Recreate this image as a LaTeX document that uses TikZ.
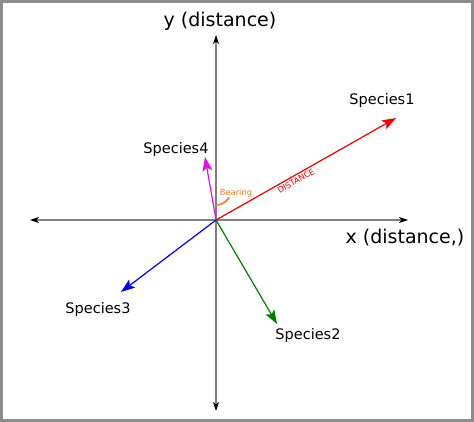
\documentclass[tikz,border=0pt]{standalone}
\usepackage{fontspec}
\setmainfont{DejaVu Sans}
\usetikzlibrary{arrows.meta}
\definecolor{axisgray}{HTML}{808080}
\definecolor{frame}{HTML}{8C8C8C}
\definecolor{bearingorange}{HTML}{F07820}
\definecolor{sp2green}{HTML}{007F00}
\definecolor{sp4magenta}{HTML}{E010E8}
\definecolor{sp1red}{HTML}{F00000}
\definecolor{sp3blue}{HTML}{0000F0}
\begin{document}
\begin{tikzpicture}[x=1pt,y=-1pt,
  axis/.style={draw=axisgray,line width=1.1pt,-{Stealth[length=9pt,width=6pt,inset=2.5pt,color=black]}},
  vec/.style={line width=1.2pt,-{Stealth[length=14pt,width=10pt,inset=3pt]}},
  splabel/.style={font=\fontsize{14.5}{16}\selectfont,inner sep=0pt},
  axlabel/.style={font=\fontsize{19}{22}\selectfont,inner sep=0pt}]
\useasboundingbox (0,0) rectangle (474,422);
\draw[frame,line width=3pt] (1.5,1.5) rectangle (472.5,420.5);
\coordinate (o) at (216,220);
\coordinate (yt) at (216,35);
\coordinate (yb) at (216,411);
\coordinate (xl) at (30,220);
\coordinate (xr) at (408,220);
\draw[axis] (o) -- (yt);
\draw[axis] (o) -- (yb);
\draw[axis] (o) -- (xl);
\draw[axis] (o) -- (xr);
\node[axlabel] (ylab) at (220,21) {y (distance)};
\node[axlabel] (xlab) at (405,238) {x (distance,)};
\coordinate (s1) at (396,118);
\coordinate (s2) at (277,324);
\coordinate (s3) at (121,292);
\coordinate (s4) at (205,157);
\draw[vec,sp1red] (o) -- (s1);
\draw[vec,sp2green] (o) -- (s2);
\draw[vec,sp3blue] (o) -- (s3);
\draw[vec,sp4magenta] (o) -- (s4);
\node[splabel] (l1) at (382,101) {Species1};
\node[splabel] (l2) at (308,335) {Species2};
\node[splabel] (l3) at (98,309) {Species3};
\node[splabel] (l4) at (176,150) {Species4};
\draw[bearingorange,line width=1.6pt] (216,205) arc[start angle=90,end angle=29.7,radius=15];
\node[bearingorange,font=\fontsize{8.3}{10}\selectfont,inner sep=0pt] (bear) at (236,193) {Bearing};
\node[sp1red,font=\fontsize{8.2}{10}\selectfont,inner sep=0pt,rotate=29.7] (dist) at (296,181) {DISTANCE};
\end{tikzpicture}
\end{document}
